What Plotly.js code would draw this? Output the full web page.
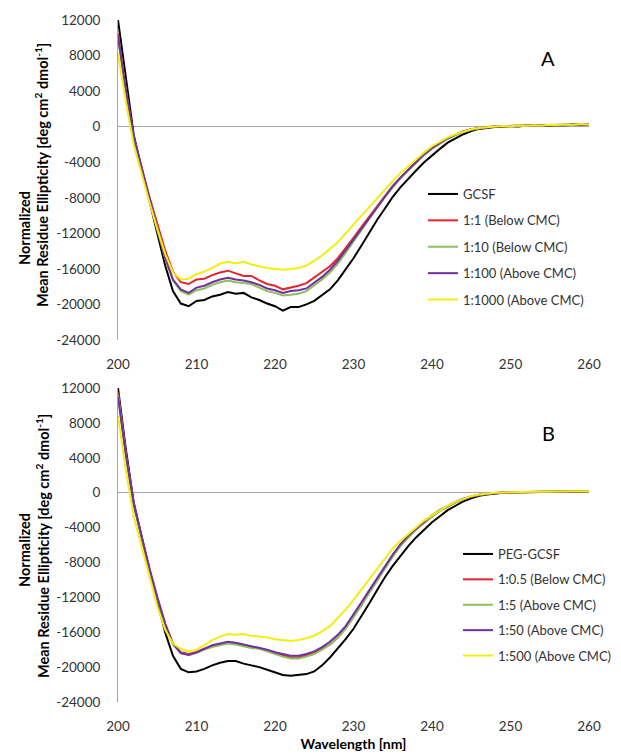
<!DOCTYPE html>
<html>
<head>
<meta charset="utf-8">
<script src="https://cdn.plot.ly/plotly-3.0.1.min.js"></script>
<style>html,body{margin:0;padding:0;background:#fff;}#chart{width:621px;height:755px;}</style>
</head>
<body>
<div id="chart"></div>
<script>
// Wavelength (nm)
const wavelength = [];
for (let w = 200; w <= 260; w++) wavelength.push(w);

// Panel A
const namesA = ['GCSF', '1:1 (Below CMC)', '1:10 (Below CMC)', '1:100 (Above CMC)', '1:1000 (Above CMC)'];
const gcsf = [12000,5300,-900,-4700,-8300,-11900,-15600,-18500,-19900,-20200,
  -19600,-19500,-19100,-18900,-18600,-18800,-18700,-19200,-19500,-19900,
  -20200,-20700,-20300,-20300,-20000,-19600,-19000,-18300,-17300,-16100,
  -14800,-13400,-11900,-10500,-9200,-7900,-6800,-5800,-4900,-4000,
  -3200,-2500,-1800,-1300,-850,-500,-250,-150,-30,0,
  60,20,120,90,160,110,200,150,250,180,260];
const a1_1 = [10500,4200,-1200,-4600,-7900,-10900,-13900,-16300,-17500,-17700,
  -17200,-17100,-16700,-16400,-16200,-16500,-16800,-16800,-17300,-17700,
  -17900,-18300,-18100,-17900,-17600,-17000,-16400,-15700,-14800,-13700,
  -12500,-11300,-10100,-8900,-7800,-6700,-5700,-4800,-3900,-3100,
  -2400,-1800,-1300,-900,-550,-300,-150,-50,20,60,
  30,110,80,150,120,200,170,230,190,280,220];
const a1_10 = [10000,4000,-1300,-4800,-8200,-11500,-14800,-17300,-18500,-18900,
  -18400,-18200,-17800,-17500,-17300,-17500,-17600,-17700,-18100,-18500,
  -18700,-19000,-18900,-18800,-18500,-17900,-17200,-16400,-15400,-14200,
  -12900,-11600,-10300,-9100,-7900,-6800,-5800,-4900,-4000,-3200,
  -2500,-1900,-1350,-950,-600,-350,-180,-60,10,70,
  40,120,90,160,130,190,160,240,200,260,230];
const a1_100 = [10200,4100,-1200,-4700,-8100,-11400,-14700,-17200,-18300,-18700,
  -18100,-17900,-17500,-17200,-17000,-17200,-17300,-17500,-17800,-18200,
  -18400,-18700,-18500,-18400,-18200,-17600,-16900,-16100,-15100,-13900,
  -12700,-11400,-10200,-9000,-7800,-6700,-5700,-4800,-3900,-3100,
  -2400,-1800,-1300,-900,-550,-300,-160,-60,30,60,
  100,70,140,110,180,150,210,180,260,220,270];
const a1_1000 = [8200,2800,-2000,-5300,-8500,-11500,-14300,-16400,-17200,-17100,
  -16600,-16300,-15900,-15400,-15200,-15400,-15200,-15500,-15700,-15900,
  -16000,-16100,-16000,-15900,-15600,-15100,-14500,-13800,-13000,-12000,
  -11000,-10000,-9000,-8000,-7000,-6100,-5200,-4400,-3600,-2900,
  -2200,-1700,-1200,-850,-550,-300,-150,-40,30,80,
  50,130,100,170,140,220,180,250,210,290,240];

// Panel B
const namesB = ['PEG-GCSF', '1:0.5 (Below CMC)', '1:5 (Above CMC)', '1:50 (Above CMC)', '1:500 (Above CMC)'];
const peg = [12000,5000,-1100,-5200,-8900,-12300,-16000,-18700,-20200,-20600,
  -20500,-20200,-19800,-19500,-19300,-19300,-19600,-19800,-20000,-20300,
  -20600,-20900,-21000,-20900,-20800,-20500,-19800,-18900,-17900,-16800,
  -15600,-14200,-12700,-11200,-9700,-8400,-7200,-6100,-5100,-4200,
  -3400,-2700,-2000,-1500,-1000,-650,-350,-200,-80,-20,
  20,40,60,70,90,100,110,120,120,140,150];
const b1_05 = [11500,4500,-1300,-5000,-8700,-12000,-15000,-17300,-18300,-18500,
  -18300,-17900,-17600,-17400,-17200,-17300,-17500,-17700,-17800,-18100,
  -18400,-18700,-18900,-18900,-18700,-18400,-17900,-17400,-16600,-15500,
  -14200,-12900,-11400,-10000,-8600,-7200,-6000,-5000,-4200,-3400,
  -2700,-2100,-1600,-1100,-750,-450,-250,-120,-40,10,
  40,60,80,90,110,100,130,140,130,160,150];
const b1_5 = [11200,4300,-1400,-5100,-8800,-12100,-15100,-17400,-18400,-18600,
  -18400,-18000,-17700,-17500,-17300,-17400,-17600,-17800,-17900,-18200,
  -18500,-18800,-19000,-19000,-18800,-18500,-18000,-17400,-16600,-15600,
  -14300,-12900,-11500,-10100,-8700,-7300,-6100,-5100,-4200,-3400,
  -2700,-2100,-1600,-1100,-750,-450,-260,-130,-40,0,
  30,60,70,100,90,120,130,120,150,140,160];
const b1_50 = [11000,4300,-1300,-5000,-8700,-12000,-15000,-17300,-18400,-18600,
  -18300,-17900,-17500,-17300,-17100,-17200,-17400,-17600,-17800,-18000,
  -18300,-18500,-18700,-18700,-18500,-18200,-17700,-17100,-16300,-15300,
  -14000,-12600,-11200,-9800,-8400,-7100,-5900,-4900,-4100,-3300,
  -2600,-2000,-1500,-1050,-700,-420,-230,-110,-30,20,
  50,70,80,100,110,120,110,140,150,140,160];
const b1_500 = [8800,2600,-2700,-6200,-9600,-13000,-15700,-17300,-17900,-18200,
  -18000,-17500,-16900,-16500,-16200,-16300,-16200,-16400,-16500,-16600,
  -16800,-16900,-17000,-16900,-16700,-16400,-15900,-15300,-14400,-13400,
  -12300,-11100,-9900,-8700,-7500,-6400,-5500,-4700,-3900,-3200,
  -2600,-2000,-1500,-1050,-700,-400,-220,-100,-20,20,
  60,80,70,110,100,130,140,130,160,150,170];

const colors = ['#000000', '#e3262b', '#8cbf5c', '#7030a0', '#f2ee10'];
const xTickVals = [200, 210, 220, 230, 240, 250, 260];
const xTickText = ['200', '210', '220', '230', '240', '250', '260'];
const yTickVals = [-24000, -20000, -16000, -12000, -8000, -4000, 0, 4000, 8000, 12000];
const yTickText = ['-24000', '-20000', '-16000', '-12000', '-8000', '-4000', '0', '4000', '8000', '12000'];
const panelLabels = ['A', 'B'];
const yTitle1 = 'Normalized';
const yTitle2 = 'Mean Residue Ellipticity [deg cm<sup>2</sup> dmol<sup>-1</sup>]';
const xTitle = 'Wavelength [nm]';

const seriesA = [gcsf, a1_1, a1_10, a1_100, a1_1000];
const seriesB = [peg, b1_05, b1_5, b1_50, b1_500];

const traces = [];
seriesA.forEach((s, i) => traces.push({
  x: wavelength, y: s, type: 'scatter', mode: 'lines', name: namesA[i],
  line: {color: colors[i], width: 2}, xaxis: 'x', yaxis: 'y',
  legend: 'legend', legendgroup: 'a' + i
}));
seriesB.forEach((s, i) => traces.push({
  x: wavelength, y: s, type: 'scatter', mode: 'lines', name: namesB[i],
  line: {color: colors[i], width: 2}, xaxis: 'x2', yaxis: 'y2',
  legend: 'legend2', legendgroup: 'b' + i
}));

const W = 621, H = 755;
const FONT = 'Lato, "Open Sans", sans-serif';
const tickFont = {family: FONT, size: 13.5, color: '#333333'};
const axisCommon = {
  showgrid: false, ticks: '', fixedrange: true
};
const xCommon = Object.assign({}, axisCommon, {
  range: [200, 260], tickmode: 'array', tickvals: xTickVals, ticktext: xTickText,
  showline: false, zeroline: false, tickfont: tickFont, ticklabelstandoff: 14,
  domain: [118 / W, 589 / W]
});
const yCommon = Object.assign({}, axisCommon, {
  range: [-24000, 12000], tickmode: 'array', tickvals: yTickVals, ticktext: yTickText,
  showline: true, linecolor: '#a6a6a6', linewidth: 1,
  zeroline: true, zerolinecolor: '#a6a6a6', zerolinewidth: 1,
  tickfont: tickFont, ticklabelstandoff: 14
});

const legendCommon = {
  font: {family: FONT, size: 13, color: '#333333'},
  bgcolor: 'rgba(0,0,0,0)', borderwidth: 0,
  xanchor: 'left', yanchor: 'top', x: 423 / W
};

const titleFont = {family: FONT, size: 14.5, color: '#000', weight: 'bold'};
function rotTitle(text, xp, yp) {
  return {text: text, xref: 'paper', yref: 'paper', x: xp / W, y: 1 - yp / H,
    xanchor: 'center', yanchor: 'middle', textangle: -90, showarrow: false, font: titleFont};
}
function panelLabel(text, xp, yp) {
  return {text: text, xref: 'paper', yref: 'paper', x: xp / W, y: 1 - yp / H,
    xanchor: 'center', yanchor: 'middle', showarrow: false,
    font: {family: FONT, size: 20, color: '#000'}};
}

const layout = {
  width: W, height: H,
  margin: {l: 0, r: 0, t: 0, b: 0},
  paper_bgcolor: '#ffffff', plot_bgcolor: '#ffffff',
  showlegend: true,
  xaxis: Object.assign({}, xCommon, {anchor: 'y'}),
  yaxis: Object.assign({}, yCommon, {anchor: 'x', domain: [1 - 340 / H, 1 - 20 / H]}),
  xaxis2: Object.assign({}, xCommon, {anchor: 'y2',
    title: {text: xTitle, font: {family: FONT, size: 14, color: '#000', weight: 'bold'}, standoff: 6}}),
  yaxis2: Object.assign({}, yCommon, {anchor: 'x2', domain: [1 - 702 / H, 1 - 388 / H]}),
  legend: Object.assign({}, legendCommon, {y: 1 - 179 / H, tracegroupgap: 6.5}),
  legend2: Object.assign({}, legendCommon, {y: 1 - 539 / H, x: 458 / W, tracegroupgap: 5.5}),
  annotations: [
    panelLabel(panelLabels[0], 548, 58),
    panelLabel(panelLabels[1], 548, 433),
    rotTitle(yTitle1, 24, 228),
    rotTitle(yTitle2, 42, 175),
    rotTitle(yTitle1, 24, 550),
    rotTitle(yTitle2, 42, 546)
  ]
};

Plotly.newPlot('chart', traces, layout, {displayModeBar: false, staticPlot: true});
</script>
</body>
</html>
